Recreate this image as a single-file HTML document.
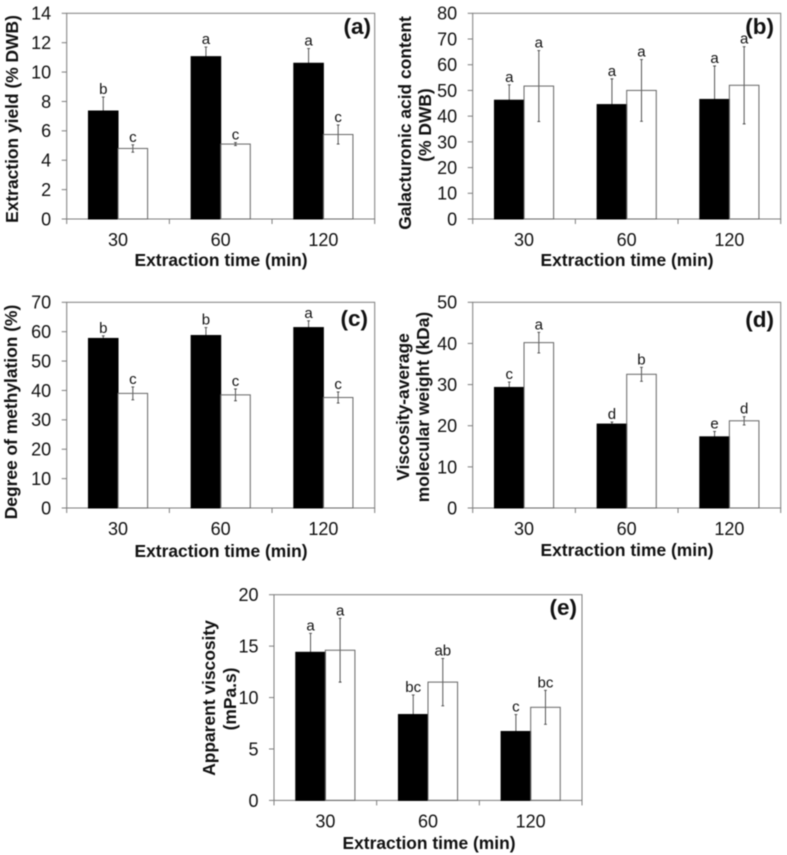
<!DOCTYPE html>
<html>
<head>
<meta charset="utf-8">
<title>Extraction charts</title>
<style>
html,body{margin:0;padding:0;background:#fff;}
svg{display:block;filter:blur(0.4px);}
text{font-family:"Liberation Sans",Arial,sans-serif;fill:#111;}
</style>
</head>
<body>
<svg id="figure" xmlns="http://www.w3.org/2000/svg" width="787" height="855" viewBox="0 0 787 855"></svg>
<script>
const categories = ['30', '60', '120'];

const ticksA = [0, 2, 4, 6, 8, 10, 12, 14];
const blackA = [7.35, 11.05, 10.6];
const whiteA = [4.8, 5.1, 5.75];
const blackErrA = [0.95, 0.65, 1.0];
const whiteErrA = [0.25, 0.1, 0.65];
const blackLettersA = ['b', 'a', 'a'];
const whiteLettersA = ['c', 'c', 'c'];

const ticksB = [0, 10, 20, 30, 40, 50, 60, 70, 80];
const blackB = [46.2, 44.5, 46.5];
const whiteB = [51.7, 50, 52];
const blackErrB = [6, 10, 13];
const whiteErrB = [13.8, 12, 15];
const blackLettersB = ['a', 'a', 'a'];
const whiteLettersB = ['a', 'a', 'a'];

const ticksC = [0, 10, 20, 30, 40, 50, 60, 70];
const blackC = [57.7, 58.7, 61.4];
const whiteC = [39, 38.5, 37.6];
const blackErrC = [0.9, 2.7, 2.3];
const whiteErrC = [2.2, 2, 1.9];
const blackLettersC = ['b', 'b', 'a'];
const whiteLettersC = ['c', 'c', 'c'];

const ticksD = [0, 10, 20, 30, 40, 50];
const blackD = [29.3, 20.4, 17.3];
const whiteD = [40.2, 32.5, 21.2];
const blackErrD = [1.3, 0.5, 1.3];
const whiteErrD = [2.5, 1.7, 1];
const blackLettersD = ['c', 'd', 'e'];
const whiteLettersD = ['a', 'b', 'd'];

const ticksE = [0, 5, 10, 15, 20];
const blackE = [14.4, 8.35, 6.7];
const whiteE = [14.6, 11.5, 9.05];
const blackErrE = [1.85, 1.9, 1.65];
const whiteErrE = [3.1, 2.3, 1.65];
const blackLettersE = ['a', 'bc', 'c'];
const whiteLettersE = ['a', 'ab', 'bc'];

const NS = 'http://www.w3.org/2000/svg';
const AXIS = '#7d7d7d';

function make(parent, tag, attrs, txt) {
  const el = document.createElementNS(NS, tag);
  for (const k in attrs) el.setAttribute(k, attrs[k]);
  if (txt !== undefined) el.textContent = txt;
  parent.appendChild(el);
  return el;
}

function drawPanel(cfg) {
  const svg = document.getElementById('figure');
  const g = make(svg, 'g', {});
  
  

  const L = cfg.left, R = cfg.left + 308, T = cfg.top, B = cfg.top + 205.7;
  const yMax = cfg.ticks[cfg.ticks.length - 1];
  const yScale = v => B - (v / yMax) * (B - T);
  const catW = (R - L) / categories.length;
  const barW = catW * 0.288;
  const catCenter = i => L + catW * (i + 0.5);

  const frame = make(g, 'rect', {x: L, y: T, width: R - L, height: B - T, fill: '#fff', stroke: AXIS, 'stroke-width': 1});
  
  

  cfg.ticks.forEach(t => {
    const y = yScale(t);
    const tick = make(g, 'line', {x1: L - 5, x2: L, y1: y, y2: y, stroke: AXIS, 'stroke-width': 1});
    
    
    const lab = make(g, 'text', {x: L - 15.5, y: y + 6.4, 'text-anchor': 'end', 'font-size': 18}, t);
    
    
  });

  for (let i = 0; i <= categories.length; i++) {
    const x = L + catW * i;
    const tick = make(g, 'line', {x1: x, x2: x, y1: B, y2: B + 5, stroke: AXIS, 'stroke-width': 1});
    
    
  }

  categories.forEach((c, i) => {
    const lab = make(g, 'text', {x: catCenter(i), y: B + 27, 'text-anchor': 'middle', 'font-size': 18}, c);
    
    

    [
      {vals: cfg.black, errs: cfg.blackErr, letters: cfg.blackLetters, x: catCenter(i) - barW, fill: '#000', stroke: '#000', cx: catCenter(i) - barW / 2, kind: 'black'},
      {vals: cfg.white, errs: cfg.whiteErr, letters: cfg.whiteLetters, x: catCenter(i), fill: '#fff', stroke: '#666', cx: catCenter(i) + barW / 2, kind: 'white'}
    ].forEach(s => {
      const v = s.vals[i], e = s.errs[i];
      const top = yScale(v);
      const hi = yScale(v + e), lo = yScale(v - e);

      const err = make(g, 'path', {d: 'M' + s.cx + ' ' + hi + 'V' + lo + 'M' + (s.cx - 1.4) + ' ' + hi + 'H' + (s.cx + 1.4) + 'M' + (s.cx - 1.4) + ' ' + lo + 'H' + (s.cx + 1.4), fill: 'none', stroke: '#444', 'stroke-width': 0.9});
      
      

      const bar = make(g, 'rect', {x: s.x, y: top, width: barW, height: B - top, fill: s.fill, 'fill-opacity': s.kind === 'white' ? 0 : 1, stroke: s.stroke, 'stroke-width': 1});
      
      

      const sig = make(g, 'text', {x: s.cx, y: hi - 3, 'text-anchor': 'middle', 'font-size': 15}, s.letters[i]);
      
      
    });
  });

  const xTitle = make(g, 'text', {x: cfg.xTitleX, y: cfg.xTitleY, 'text-anchor': 'middle', 'font-size': 17.4, 'font-weight': 'bold'}, 'Extraction time (min)');
  
  

  cfg.yTitle.forEach(line => {
    const t = make(g, 'text', {transform: 'translate(' + line.x + ',' + line.y + ') rotate(-90)', 'text-anchor': 'middle', 'font-size': 17.4, 'font-weight': 'bold'}, line.text);
    
    
  });

  const tag = make(g, 'text', {x: cfg.tagX, y: cfg.tagY, 'text-anchor': 'end', 'font-size': 22.5, 'font-weight': 'bold'}, '(' + cfg.id + ')');
  
  
}

drawPanel({id: 'a', left: 66.7, top: 13.3, ticks: ticksA, black: blackA, white: whiteA, blackErr: blackErrA, whiteErr: whiteErrA, blackLetters: blackLettersA, whiteLetters: whiteLettersA,
  xTitleX: 221, xTitleY: 266, tagX: 371, tagY: 34,
  yTitle: [{x: 18, y: 119, text: 'Extraction yield (% DWB)'}]});
drawPanel({id: 'b', left: 472.7, top: 13.3, ticks: ticksB, black: blackB, white: whiteB, blackErr: blackErrB, whiteErr: whiteErrB, blackLetters: blackLettersB, whiteLetters: whiteLettersB,
  xTitleX: 627, xTitleY: 266, tagX: 774, tagY: 34,
  yTitle: [{x: 411, y: 123, text: 'Galacturonic acid content'}, {x: 431, y: 125, text: '(% DWB)'}]});
drawPanel({id: 'c', left: 66.7, top: 302.3, ticks: ticksC, black: blackC, white: whiteC, blackErr: blackErrC, whiteErr: whiteErrC, blackLetters: blackLettersC, whiteLetters: whiteLettersC,
  xTitleX: 221, xTitleY: 557, tagX: 368, tagY: 326,
  yTitle: [{x: 17, y: 412, text: 'Degree of methylation (%)'}]});
drawPanel({id: 'd', left: 472.7, top: 302.3, ticks: ticksD, black: blackD, white: whiteD, blackErr: blackErrD, whiteErr: whiteErrD, blackLetters: blackLettersD, whiteLetters: whiteLettersD,
  xTitleX: 627, xTitleY: 556, tagX: 774, tagY: 327,
  yTitle: [{x: 409, y: 407, text: 'Viscosity-average'}, {x: 429, y: 407, text: 'molecular weight (kDa)'}]});
drawPanel({id: 'e', left: 274, top: 594.7, ticks: ticksE, black: blackE, white: whiteE, blackErr: blackErrE, whiteErr: whiteErrE, blackLetters: blackLettersE, whiteLetters: whiteLettersE,
  xTitleX: 429, xTitleY: 849, tagX: 577, tagY: 615,
  yTitle: [{x: 215, y: 698, text: 'Apparent viscosity'}, {x: 236, y: 699, text: '(mPa.s)'}]});
</script>
</body>
</html>
